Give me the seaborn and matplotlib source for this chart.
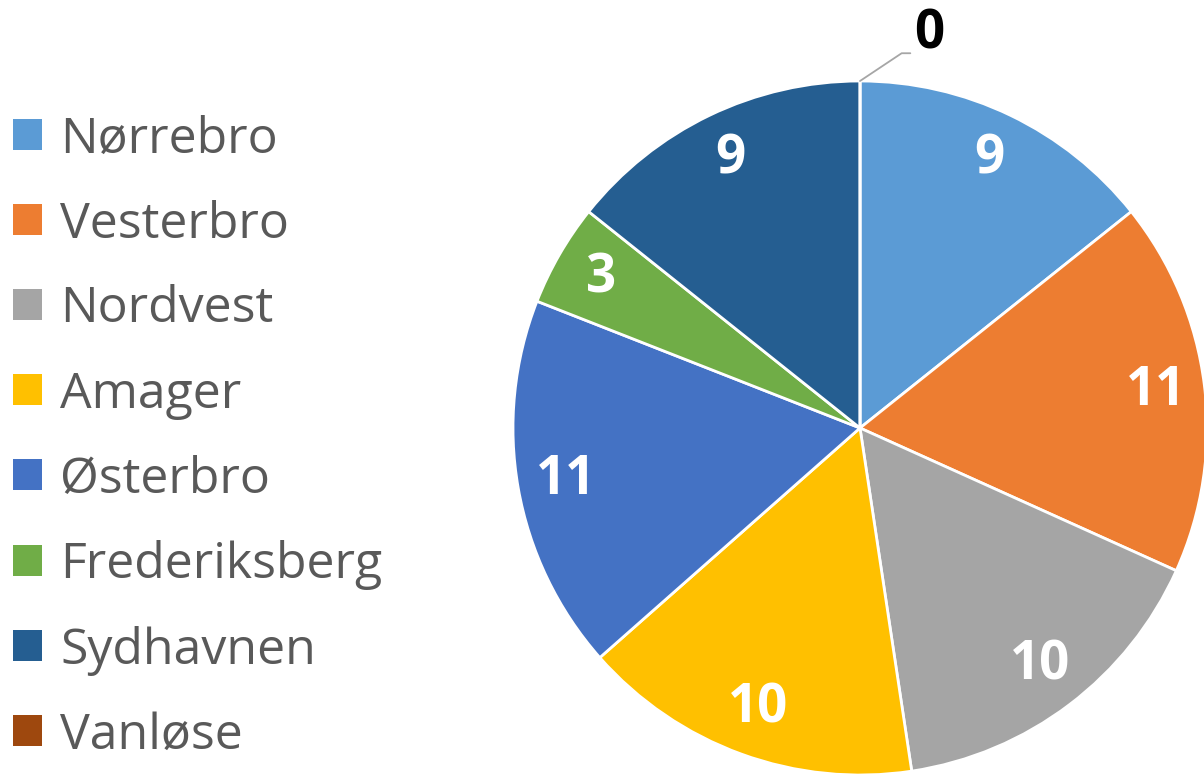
import matplotlib
matplotlib.use("Agg")
import matplotlib.pyplot as plt
import numpy as np
import seaborn as sns

# data
districts = ["Nørrebro", "Vesterbro", "Nordvest", "Amager", "Østerbro",
             "Frederiksberg", "Sydhavnen", "Vanløse"]
counts = [9, 11, 10, 10, 11, 3, 9, 0]
colors = ["#5B9BD5", "#ED7D31", "#A5A5A5", "#FFC000", "#4472C4",
          "#70AD47", "#255E91", "#9E480E"]

sns.set_theme(style="white")
plt.rcParams['font.family'] = ['Open Sans', 'DejaVu Sans']

fig = plt.figure(figsize=(12.04, 7.74), dpi=100)
# axes sized so the pie circle sits like in the original (slightly cut at right/bottom)
ax = fig.add_axes([513 / 1204, -1 / 774, 694 / 1204, 694 / 774])

wedges, _ = ax.pie(counts, colors=sns.color_palette(colors), startangle=90,
                   counterclock=False, radius=1,
                   wedgeprops=dict(edgecolor="white", linewidth=2))
ax.set_xlim(-1, 1)
ax.set_ylim(-1, 1)
ax.axis("off")

for w, val in zip(wedges, counts):
    mid = np.deg2rad((w.theta1 + w.theta2) / 2)
    if val == 0:
        # zero slice: leader line + black label above the pie
        x0, y0 = np.cos(mid), np.sin(mid)
        ax.plot([x0, x0 + 0.12, x0 + 0.145], [y0, y0 + 0.08, y0 + 0.08],
                color="#A6A6A6", lw=1.3, clip_on=False)
        ax.text(x0 + 0.2, y0 + 0.135, str(val), ha="center", va="center",
                fontsize=38, fontweight="bold", color="black", clip_on=False)
        continue
    ax.text(0.86 * np.cos(mid), 0.86 * np.sin(mid), str(val),
            ha="center", va="center", fontsize=38, fontweight="bold",
            color="white")

# legend on the left
handles = [plt.Rectangle((0, 0), 1, 1, facecolor=c, edgecolor="none") for c in colors]
leg = fig.legend(handles, districts, loc="upper left",
                 bbox_to_anchor=(13 / 1204, 1 - 115 / 774), frameon=False,
                 fontsize=36, handlelength=0.58, handleheight=0.58,
                 handletextpad=0.36, labelspacing=0.71,
                 borderpad=0, borderaxespad=0)
for t in leg.get_texts():
    t.set_color("#595959")

fig.savefig("out.png", dpi=100)
